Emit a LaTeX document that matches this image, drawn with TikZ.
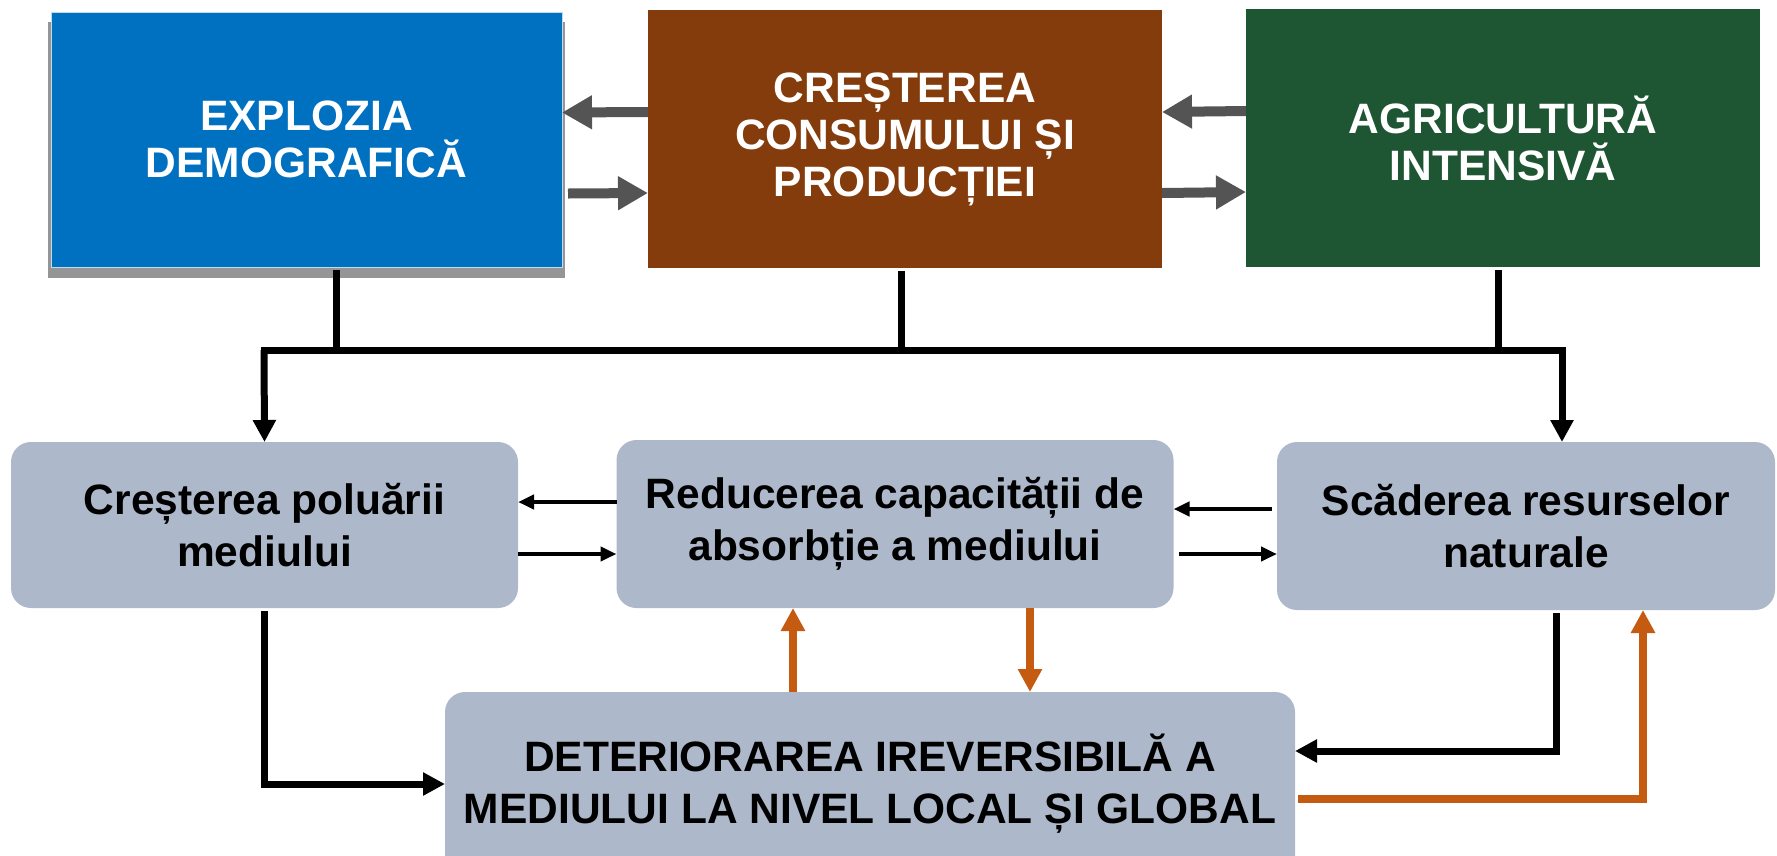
\documentclass[tikz,border=0pt]{standalone}
\usepackage{fontspec}
\setmainfont{Liberation Sans}
\usetikzlibrary{arrows.meta}
\definecolor{topblue}{HTML}{0070C0}
\definecolor{topbrown}{HTML}{843C0C}
\definecolor{topgreen}{HTML}{1E5532}
\definecolor{boxgray}{HTML}{ADB9CA}
\definecolor{arrgray}{HTML}{545454}
\definecolor{orng}{HTML}{C55A11}
\definecolor{shadowgray}{HTML}{959595}
\begin{document}
\begin{tikzpicture}[x=1pt,y=-1pt,
  topbox/.style={rectangle, inner sep=0pt, outer sep=0pt, text=white, align=center,
    font=\fontsize{42.5}{47}\selectfont\bfseries},
  midbox/.style={rectangle, rounded corners=20pt, fill=boxgray, inner sep=0pt, outer sep=0pt,
    align=center, text=black, font=\fontsize{42.5}{52}\selectfont\bfseries},
  grayarr/.style={draw=arrgray, line width=10pt, -{Triangle[length=30pt,width=32pt]}},
  blkline/.style={draw=black, line width=7pt},
  blkarr/.style={draw=black, line width=7pt, -{Triangle[length=22pt,width=22pt]}},
  thinarr/.style={draw=black, line width=4pt, -{Triangle[length=16pt,width=14pt]}},
  orarr/.style={draw=orng, line width=8pt, -{Triangle[length=23pt,width=23pt]}}
]
\useasboundingbox (0,0) rectangle (1777,855);
\clip (0,0) rectangle (1777,855);

% shadow of the blue box
\fill[shadowgray] (48,22) rectangle (565,278);

% top boxes
\node[topbox, fill=topblue, draw=white!75!topblue, line width=1pt, minimum width=511pt, minimum height=255pt]
  (blue) at (306.5,139.5) {EXPLOZIA\\DEMOGRAFICĂ};
\node[topbox, fill=topbrown, minimum width=514pt, minimum height=258pt]
  (brown) at (905,139) {CREȘTEREA\\CONSUMULUI ȘI\\PRODUCȚIEI};
\node[topbox, fill=topgreen, minimum width=514pt, minimum height=258pt]
  (green) at (1503,138) {AGRICULTURĂ\\INTENSIVĂ};

% middle boxes
\node[midbox, minimum width=507pt, minimum height=166pt] (poll) at (264.5,525)
  {Creșterea poluării\\mediului};
\node[midbox, minimum width=557pt, minimum height=168pt] (red) at (895,524)
  {Reducerea capacității de\\absorbție a mediului};
\node[midbox, minimum width=498pt, minimum height=168pt] (res) at (1526,526)
  {Scăderea resurselor\\naturale};

% bottom box
\node[midbox, minimum width=850pt, minimum height=184pt] (bottom) at (870,784)
  {DETERIORAREA IREVERSIBILĂ A\\MEDIULUI LA NIVEL LOCAL ȘI GLOBAL};

% gray arrows between top boxes
\draw[grayarr] ([yshift=27pt]brown.west) -- ([yshift=27pt]blue.east);
\draw[grayarr] ([yshift=-54pt,xshift=6pt]blue.east) -- ([yshift=-54pt]brown.west);
\draw[grayarr] ([yshift=27pt]green.west) -- ([yshift=27pt]brown.east);
\draw[grayarr] ([yshift=-54pt]brown.east) -- ([yshift=-54pt]green.west);

% black tree
\coordinate (hl) at (264,350);
\coordinate (hr) at (1562,350);
\draw[blkline] ([xshift=30pt,yshift=-3pt]blue.south) -- ([xshift=30pt]blue.south |- hl);
\draw[blkline] ([xshift=-4pt,yshift=-3pt]brown.south) -- ([xshift=-4pt]brown.south |- hl);
\draw[blkline] ([xshift=-5pt,yshift=-3pt]green.south) -- ([xshift=-5pt]green.south |- hl);
\draw[blkline, line cap=rect] (hl) -- (hr);
\draw[blkarr] (hl) -- (poll.north);
\draw[blkarr] (hr) -- (hr |- res.north);

% thin arrows between middle boxes
\draw[thinarr] ([yshift=22pt]red.west) -- ([yshift=22pt]red.west -| poll.east);
\draw[thinarr] ([yshift=-29pt]poll.east) -- ([yshift=-29pt]poll.east -| red.west);
\draw[thinarr] ([yshift=17pt,xshift=-5pt]res.west) -- ([yshift=17pt]res.west -| red.east);
\draw[thinarr] ([yshift=-30pt,xshift=5pt]red.east) -- ([yshift=-30pt]red.east -| res.west);

% black arrows into bottom box
\draw[blkarr] ([yshift=-3pt]poll.south) |- (bottom.west);
\draw[blkarr] ([xshift=30pt,yshift=-3pt]res.south) |- ([yshift=33pt]bottom.east);

% orange arrows
\draw[orarr] ([xshift=-77pt]bottom.north) -- ([xshift=-77pt]bottom.north |- red.south);
\draw[orarr] ([xshift=135pt]red.south) -- ([xshift=135pt]red.south |- bottom.north);
\draw[orarr] ([yshift=-15pt,xshift=3pt]bottom.east) -| ([xshift=117pt]res.south);
\end{tikzpicture}
\end{document}
